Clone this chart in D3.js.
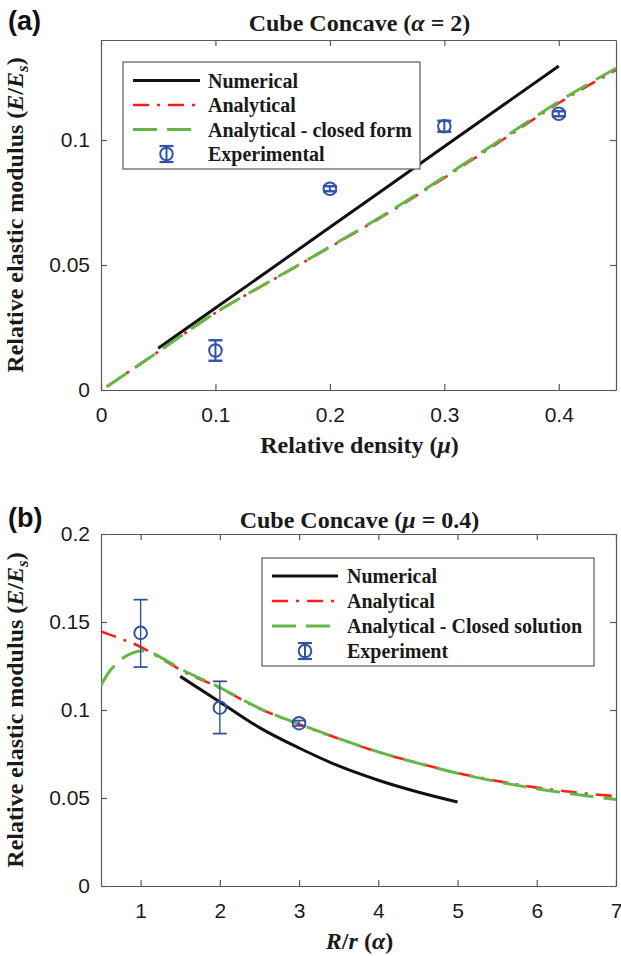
<!DOCTYPE html>
<html><head><meta charset="utf-8">
<script src="https://cdn.jsdelivr.net/npm/d3@7"></script>
<style>
html,body{margin:0;padding:0;background:#fff;}
svg{display:block;}
</style></head><body>
<script>
// ---------- Panel (a): Cube Concave, alpha = 2 ----------
const muNumerical   = [0.05, 0.1, 0.15, 0.2, 0.25, 0.3, 0.35, 0.4];
const eNumericalA   = [0.0167, 0.0328, 0.0489, 0.0651, 0.0812, 0.0974, 0.1135, 0.1296];
const muAnalytical  = [0.005, 0.05, 0.1, 0.15, 0.2, 0.25, 0.3, 0.35, 0.4, 0.45];
const eAnalyticalA  = [0.0013, 0.0153, 0.0309, 0.0440, 0.0571, 0.0705, 0.0849, 0.0998, 0.1148, 0.1280];
const eClosedA      = [0.0013, 0.0153, 0.0309, 0.0441, 0.0573, 0.0708, 0.0853, 0.1003, 0.1154, 0.1287];
const muExperiment  = [0.1, 0.2, 0.3, 0.4];
const eExperimentA  = [0.0158, 0.0805, 0.1055, 0.1105];
const errExperimentA = [0.0041, 0.0010, 0.0022, 0.0010];
const ticksMu = [0, 0.1, 0.2, 0.3, 0.4];
const ticksEA = [0, 0.05, 0.1];
const legendA = ["Numerical", "Analytical", "Analytical - closed form", "Experimental"];

// ---------- Panel (b): Cube Concave, mu = 0.4 ----------
const alphaNumerical = [1.5, 2, 2.5, 3, 3.5, 4, 4.5, 5];
const eNumericalB    = [0.1191, 0.1046, 0.0900, 0.0784, 0.0682, 0.0601, 0.0534, 0.0477];
const alphaAnalytical = [0.5, 0.75, 1, 1.25, 1.5, 2, 2.5, 3, 3.5, 4, 4.5, 5, 5.5, 6, 6.5, 7];
const eAnalyticalB    = [0.1447, 0.1405, 0.1358, 0.1295, 0.1229, 0.1125, 0.1008, 0.0919, 0.0837, 0.0761, 0.0699, 0.0642, 0.0597, 0.0559, 0.0531, 0.0510];
const alphaClosed = [0.5, 0.6, 0.7, 0.8, 0.9, 1.0, 1.1, 1.2, 1.3, 1.5, 2, 2.5, 3, 3.5, 4, 4.5, 5, 5.5, 6, 6.5, 7];
const eClosedB    = [0.1140, 0.1215, 0.1265, 0.1302, 0.1325, 0.1335, 0.1333, 0.1312, 0.1288, 0.1235, 0.1128, 0.1010, 0.0920, 0.0838, 0.0762, 0.0698, 0.0641, 0.0593, 0.0553, 0.0520, 0.0492];
const alphaExperiment = [1, 2, 3];
const eExperimentB    = [0.1438, 0.1013, 0.0925];
const errLowB  = [0.0194, 0.0147, 0.0015];
const errHighB = [0.0189, 0.0150, 0.0015];
const ticksAlpha = [1, 2, 3, 4, 5, 6, 7];
const ticksEB = [0, 0.05, 0.1, 0.15, 0.2];
const legendB = ["Numerical", "Analytical", "Analytical - Closed solution", "Experiment"];

// ---------- drawing ----------
const W = 621, H = 956;
const SERIF = '"Liberation Serif","Times New Roman",serif';
const SANS = '"Liberation Sans",Arial,Helvetica,sans-serif';
const COL = {num: '#111111', ana: '#ff1c1c', closed: '#63b845', exp: '#3452a4', axis: '#5a5a5a'};
const STYLE = {
  num:    {stroke: COL.num, width: 3, dash: null},
  ana:    {stroke: COL.ana, width: 2.6, dash: '16,8,3,8'},
  closed: {stroke: COL.closed, width: 3, dash: '24,10'}
};

const svg = d3.select('body').append('svg').attr('width', W).attr('height', H);
const defs = svg.append('defs');

function zip(xs, ys) { return xs.map((v, i) => [v, ys[i]]); }

function panel(cfg) {
  const L = 101, R = 616;
  const [yB, yT] = cfg.yRange;
  const x = d3.scaleLinear().domain(cfg.xDomain).range([L, R]);
  const y = d3.scaleLinear().domain(cfg.yDomain).range(cfg.yRange);
  const g = svg.append('g');

  defs.append('clipPath').attr('id', 'clip-' + cfg.id)
    .append('rect').attr('x', L).attr('y', yT).attr('width', R - L).attr('height', yB - yT);

  // axes with inward ticks on all four sides
  const fmt = d => String(d);
  const axB = g.append('g').attr('transform', `translate(0,${yB})`)
    .call(d3.axisBottom(x).tickValues(cfg.xTicks).tickSizeInner(-6).tickSizeOuter(0).tickPadding(17).tickFormat(fmt));
  const axT = g.append('g').attr('transform', `translate(0,${yT})`)
    .call(d3.axisTop(x).tickValues(cfg.xTicks).tickSizeInner(-6).tickSizeOuter(0).tickFormat(''));
  const axL = g.append('g').attr('transform', `translate(${L},0)`)
    .call(d3.axisLeft(y).tickValues(cfg.yTicks).tickSizeInner(-6).tickSizeOuter(0).tickPadding(11).tickFormat(fmt));
  const axR = g.append('g').attr('transform', `translate(${R},0)`)
    .call(d3.axisRight(y).tickValues(cfg.yTicks).tickSizeInner(-6).tickSizeOuter(0).tickFormat(''));
  [axB, axT, axL, axR].forEach(a => {
    a.attr('font-size', 21).attr('font-family', SANS);
    a.selectAll('path.domain').attr('stroke', COL.axis).attr('stroke-width', 1.2);
    a.selectAll('.tick line').attr('stroke', COL.axis).attr('stroke-width', 1.2);
    a.selectAll('.tick text').attr('fill', '#1a1a1a');
  });

  // curves
  const plot = g.append('g').attr('clip-path', `url(#clip-${cfg.id})`);
  cfg.series.forEach(s => {
    const st = STYLE[s.key];
    const line = d3.line().x(d => x(d[0])).y(d => y(d[1])).curve(s.curve || d3.curveLinear);
    plot.append('path').attr('d', line(zip(s.xs, s.ys)))
      .attr('fill', 'none').attr('stroke', st.stroke).attr('stroke-width', st.width)
      .attr('stroke-dasharray', st.dash).attr('stroke-linejoin', 'round');
  });

  // experimental points with error bars
  const ex = cfg.exp;
  const eg = g.append('g').attr('stroke', COL.exp).attr('fill', 'none');
  ex.xs.forEach((xv, i) => {
    const cx = x(xv), cy = y(ex.ys[i]);
    const yLo = y(ex.ys[i] - ex.lo[i]), yHi = y(ex.ys[i] + ex.hi[i]);
    eg.append('line').attr('x1', cx).attr('x2', cx).attr('y1', yLo).attr('y2', yHi).attr('stroke-width', ex.barWidth);
    [yLo, yHi].forEach(yy => eg.append('line').attr('x1', cx - 7).attr('x2', cx + 7).attr('y1', yy).attr('y2', yy).attr('stroke-width', ex.barWidth + 0.4));
    eg.append('circle').attr('cx', cx).attr('cy', cy).attr('r', 6.3).attr('stroke-width', 2);
  });

  // legend
  const lg = cfg.legend;
  const leg = g.append('g');
  leg.append('rect').attr('x', lg.x0).attr('y', lg.y0).attr('width', lg.x1 - lg.x0).attr('height', lg.y1 - lg.y0)
    .attr('fill', '#fff').attr('stroke', COL.axis).attr('stroke-width', 1.2);
  const keys = ['num', 'ana', 'closed', 'exp'];
  lg.labels.forEach((label, i) => {
    const cy = lg.rowY[i];
    const k = keys[i];
    if (k === 'exp') {
      const cx = (lg.lineX0 + lg.lineX1) / 2;
      const eg2 = leg.append('g').attr('stroke', COL.exp).attr('fill', 'none');
      eg2.append('line').attr('x1', cx).attr('x2', cx).attr('y1', cy - 8).attr('y2', cy + 8).attr('stroke-width', 2);
      [cy - 8, cy + 8].forEach(yy => eg2.append('line').attr('x1', cx - 7).attr('x2', cx + 7).attr('y1', yy).attr('y2', yy).attr('stroke-width', 2.2));
      eg2.append('circle').attr('cx', cx).attr('cy', cy).attr('r', 6.3).attr('stroke-width', 2);
    } else {
      const st = STYLE[k];
      leg.append('line').attr('x1', lg.lineX0).attr('x2', lg.lineX1).attr('y1', cy).attr('y2', cy)
        .attr('stroke', st.stroke).attr('stroke-width', st.width).attr('stroke-dasharray', st.dash);
    }
    leg.append('text').attr('x', lg.textX).attr('y', cy + 7)
      .attr('font-family', SERIF).attr('font-weight', 'bold').attr('font-size', 20).attr('fill', '#1a1a1a')
      .text(label);
  });

  // title
  const t = g.append('text').attr('x', (L + R) / 2 + 1).attr('y', cfg.titleY).attr('text-anchor', 'middle')
    .attr('font-family', SERIF).attr('font-weight', 'bold').attr('font-size', 24).attr('fill', '#1a1a1a');
  t.append('tspan').text('Cube Concave (');
  t.append('tspan').attr('font-style', 'italic').text(cfg.titleSym);
  t.append('tspan').text(' = ' + cfg.titleVal + ')');

  // panel letter
  g.append('text').attr('x', 8).attr('y', cfg.titleY - 1).attr('font-family', SANS).attr('font-weight', 'bold')
    .attr('font-size', 27).attr('fill', '#111').text(cfg.letter);

  // x label
  const xl = g.append('text').attr('x', (L + R) / 2 + 1).attr('y', yB + 63).attr('text-anchor', 'middle')
    .attr('font-family', SERIF).attr('font-weight', 'bold').attr('font-size', 24).attr('fill', '#1a1a1a');
  cfg.xLabel.forEach(p => xl.append('tspan').attr('font-style', p.it ? 'italic' : null).text(p.t));

  // y label
  const yl = g.append('text').attr('transform', `translate(23,${(yB + yT) / 2}) rotate(-90)`).attr('text-anchor', 'middle')
    .attr('font-family', SERIF).attr('font-weight', 'bold').attr('font-size', 24).attr('fill', '#1a1a1a');
  yl.append('tspan').text('Relative elastic modulus (');
  yl.append('tspan').attr('font-style', 'italic').text('E');
  yl.append('tspan').text('/');
  yl.append('tspan').attr('font-style', 'italic').text('E');
  yl.append('tspan').attr('font-style', 'italic').attr('font-size', 17).attr('dy', 5).text('s');
  yl.append('tspan').attr('dy', -5).text(')');
}

panel({
  id: 'a', letter: '(a)', titleY: 31, titleSym: 'α', titleVal: '2',
  xDomain: [0, 0.45], yDomain: [0, 0.14], yRange: [390, 40],
  xTicks: ticksMu, yTicks: ticksEA,
  xLabel: [{t: 'Relative density ('}, {t: 'μ', it: true}, {t: ')'}],
  series: [
    {key: 'num', xs: muNumerical, ys: eNumericalA},
    {key: 'ana', xs: muAnalytical, ys: eAnalyticalA, curve: d3.curveMonotoneX},
    {key: 'closed', xs: muAnalytical, ys: eClosedA, curve: d3.curveMonotoneX}
  ],
  exp: {xs: muExperiment, ys: eExperimentA, lo: errExperimentA, hi: errExperimentA, barWidth: 2},
  legend: {labels: legendA, x0: 123, x1: 420, y0: 62, y1: 169, rowY: [80.5, 105, 129.5, 154],
           lineX0: 133, lineX1: 200, textX: 208}
});

panel({
  id: 'b', letter: '(b)', titleY: 528, titleSym: 'μ', titleVal: '0.4',
  xDomain: [0.5, 7], yDomain: [0, 0.2], yRange: [886, 534],
  xTicks: ticksAlpha, yTicks: ticksEB,
  xLabel: [{t: 'R', it: true}, {t: '/'}, {t: 'r', it: true}, {t: ' ('}, {t: 'α', it: true}, {t: ')'}],
  series: [
    {key: 'num', xs: alphaNumerical, ys: eNumericalB, curve: d3.curveMonotoneX},
    {key: 'ana', xs: alphaAnalytical, ys: eAnalyticalB, curve: d3.curveMonotoneX},
    {key: 'closed', xs: alphaClosed, ys: eClosedB, curve: d3.curveMonotoneX}
  ],
  exp: {xs: alphaExperiment, ys: eExperimentB, lo: errLowB, hi: errHighB, barWidth: 1.4},
  legend: {labels: legendB, x0: 262, x1: 594, y0: 558, y1: 666, rowY: [576, 601, 626, 651],
           lineX0: 272, lineX1: 338, textX: 347}
});
</script>
</body></html>
